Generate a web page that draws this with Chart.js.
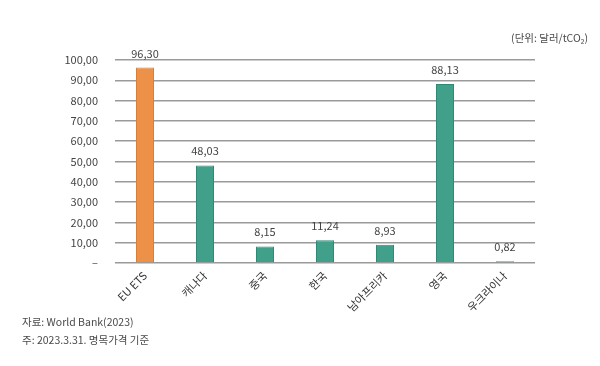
<!DOCTYPE html>
<html>
<head>
<meta charset="utf-8">
<script src="https://cdn.jsdelivr.net/npm/chart.js@4"></script>
<style>
  html, body { margin: 0; padding: 0; background: #fff; }
  #wrap { position: relative; width: 600px; height: 366px; }
  .note { position: absolute; font-family: "Noto Sans CJK KR", "Noto Sans", sans-serif; font-size: 10.5px; color: #4a4a4a; white-space: nowrap; }
</style>
</head>
<body>
<div id="wrap">
  <canvas id="chart" width="600" height="366"></canvas>
  <div class="note" style="right:12px; top:30px;">(단위: 달러/tCO₂)</div>
  <div class="note" style="left:22px; top:314px;">자료: World Bank(2023)</div>
  <div class="note" style="left:22px; top:332px;">주: 2023.3.31. 명목가격 기준</div>
</div>
<script>
const categories = ["EU ETS", "캐나다", "중국", "한국", "남아프리카", "영국", "우크라이나"];
const prices = [96.30, 48.03, 8.15, 11.24, 8.93, 88.13, 0.82];
const barColors = ["#EE9148", "#40A08A", "#40A08A", "#40A08A", "#40A08A", "#40A08A", "#40A08A"];
const borderColors = ["#DA7D36", "#2F8A75", "#2F8A75", "#2F8A75", "#2F8A75", "#2F8A75", "#2F8A75"];

function fmt(v) {
    return v.toFixed(2).replace(".", ",");
}

// value labels above each bar
const valueLabels = {
    id: "valueLabels",
    afterDatasetsDraw(chart) {
        const ctx = chart.ctx;
        const meta = chart.getDatasetMeta(0);
        ctx.save();
        ctx.font = "11px 'Noto Sans CJK KR', 'Noto Sans', sans-serif";
        ctx.fillStyle = "#444";
        ctx.textAlign = "center";
        ctx.textBaseline = "alphabetic";
        meta.data.forEach((bar, i) => {
            ctx.fillText(fmt(prices[i]), bar.x, bar.y - 10);
        });
        ctx.restore();
    }
};

new Chart(document.getElementById("chart"), {
    type: "bar",
    data: {
        labels: categories,
        datasets: [{
            data: prices,
            backgroundColor: barColors,
            borderColor: borderColors,
            borderWidth: 1,
            categoryPercentage: 1,
            barPercentage: 0.3
        }]
    },
    options: {
        responsive: false,
        animation: false,
        layout: { padding: { top: 60, right: 65, left: 0, bottom: 0 } },
        plugins: {
            legend: { display: false },
            tooltip: { enabled: false }
        },
        scales: {
            x: {
                grid: { display: false, drawTicks: false },
                border: { display: false },
                ticks: {
                    minRotation: 45,
                    maxRotation: 45,
                    padding: 6,
                    color: "#333",
                    font: { size: 11, family: "'Noto Sans CJK KR', 'Noto Sans', sans-serif" }
                },
                afterFit(scale) { scale.height = 103; }
            },
            y: {
                min: 0,
                max: 100,
                grid: { color: "#9a9a9a", lineWidth: 1.5, drawTicks: false },
                border: { display: false },
                ticks: {
                    stepSize: 10,
                    padding: 17,
                    color: "#444",
                    font: { size: 11, family: "'Noto Sans CJK KR', 'Noto Sans', sans-serif" },
                    callback: v => v === 0 ? "–" : fmt(v)
                },
                afterFit(scale) { scale.width = 115; }
            }
        }
    },
    plugins: [valueLabels]
});
</script>
</body>
</html>
